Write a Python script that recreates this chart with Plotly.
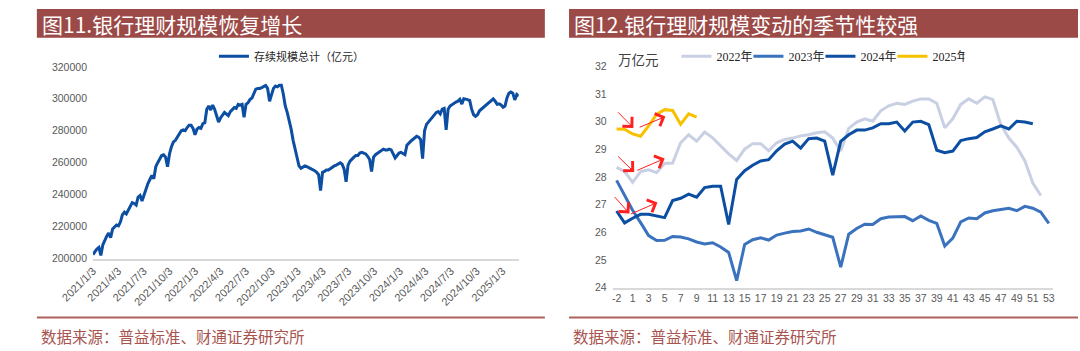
import pandas as pd
import plotly.graph_objects as go

W, H = 1080, 351

# ---------------- left chart data (亿元, weekly) ----------------
START_DATE = "2021-01-03"
SCALE_TOTAL = [
    202500, 204500, 206000, 207000, 202000, 208500, 211500, 214000, 216000, 213000,
    218500, 220000, 221000, 220500, 223000, 227500, 229000, 228000, 230500, 232500,
    235000, 234500, 233500, 238500, 239500, 236000, 240000, 243500, 247000, 249500,
    252000, 250000, 257500, 260000, 262000, 264500, 265000, 263500, 257500, 265500,
    270000, 273000, 274000, 276000, 278500, 280000, 280500, 280000, 282000, 283500,
    283500, 281500, 277500, 281000, 282000, 281500, 284500, 285000, 293500, 295500,
    293000, 296000, 293500, 290000, 285500, 288000, 289500, 291500, 290500, 289500,
    292000, 293500, 294500, 294000, 296500, 296000, 296500, 288500, 296500, 297500,
    299500, 300500, 303500, 306000, 306500, 306500, 307000, 307500, 308300, 306500,
    298500, 302500, 306500, 308000, 307500, 308500, 308500, 303000, 295500, 291500,
    287000, 281000, 274000, 268000, 263500, 258000, 256500, 257000, 258000, 257500,
    257000, 256000, 255500, 255000, 254000, 252500, 242500, 254000, 254500, 255500,
    255500, 256500, 257500, 258000, 258500, 259500, 260000, 259000, 256000, 248000,
    258500, 261000, 262500, 263500, 264500, 264500, 266000, 266500, 266000, 265500,
    264000, 262000, 254500, 263500, 265000, 266000, 266500, 267500, 268500, 268000,
    268000, 268500, 268000, 265500, 263000, 264500, 266000, 266500, 265500, 265000,
    271000, 272500, 273500, 274500, 275500, 276500, 276000, 274500, 262500, 280000,
    284000, 285500, 286500, 288000, 290000, 291500, 292000, 290500, 293500, 294000,
    280500, 293500, 295500, 296500, 297500, 298000, 298500, 299700, 296700, 300000,
    299800, 299500, 299000, 293500, 290000, 289000, 290000, 292500, 293500, 295000,
    295500, 296500, 297500, 298500, 300000, 298500, 296500, 296800, 296200, 294700,
    295500, 300500, 303500, 304200, 303500, 299300, 302700, 301700,
]
LEFT_TICK_DATES = [
    "2021-01-03", "2021-04-03", "2021-07-03", "2021-10-03",
    "2022-01-03", "2022-04-03", "2022-07-03", "2022-10-03",
    "2023-01-03", "2023-04-03", "2023-07-03", "2023-10-03",
    "2024-01-03", "2024-04-03", "2024-07-03", "2024-10-03",
    "2025-01-03",
]
LEFT_TICK_LABELS = [
    "2021/1/3", "2021/4/3", "2021/7/3", "2021/10/3",
    "2022/1/3", "2022/4/3", "2022/7/3", "2022/10/3",
    "2023/1/3", "2023/4/3", "2023/7/3", "2023/10/3",
    "2024/1/3", "2024/4/3", "2024/7/3", "2024/10/3",
    "2025/1/3",
]
LEFT_Y_TICKS = [200000, 220000, 240000, 260000, 280000, 300000, 320000]

# ---------------- right chart data (万亿元, by week) ----------------
WEEKS = ["-2", "-1"] + [str(i) for i in range(1, 54)]
Y2022 = [28.35, 28.20, 27.81, 28.20, 28.26, 28.16, 28.49, 28.51, 29.24, 29.53,
         29.30, 29.63, 29.42, 29.13, 28.84, 28.60, 29.01, 29.21, 29.21, 28.95,
         29.24, 29.36, 29.41, 29.49, 29.53, 29.60, 29.64, 29.41, 28.94, 29.76,
         29.99, 30.11, 30.02, 30.40, 30.58, 30.67, 30.63, 30.75, 30.83, 30.83,
         30.67, 29.78, 30.11, 30.63, 30.83, 30.67, 30.90, 30.81, 29.90, 29.41,
         29.08, 28.59, 27.78, 27.33]
Y2023 = [27.88, 27.33, 26.80, 26.35, 25.88, 25.70, 25.71, 25.85, 25.83, 25.76,
         25.65, 25.58, 25.62, 25.47, 25.27, 24.25, 25.56, 25.73, 25.80, 25.72,
         25.90, 25.97, 26.03, 26.05, 26.12, 26.00, 25.91, 25.82, 24.74, 25.93,
         26.14, 26.29, 26.28, 26.49, 26.55, 26.55, 26.57, 26.42, 26.59, 26.43,
         26.32, 25.50, 25.79, 26.38, 26.52, 26.49, 26.70, 26.78, 26.82, 26.87,
         26.78, 26.94, 26.87, 26.73, 26.32]
Y2024 = [26.77, 26.34, 26.51, 26.65, 26.65, 26.60, 26.53, 27.15, 27.23, 27.38,
         27.27, 27.62, 27.67, 27.67, 26.28, 27.91, 28.23, 28.43, 28.58, 28.63,
         28.95, 29.19, 29.30, 29.05, 29.39, 29.41, 29.30, 28.07, 29.29, 29.53,
         29.70, 29.70, 29.78, 29.93, 29.93, 29.99, 29.67, 29.99, 30.02, 29.90,
         28.97, 28.88, 28.94, 29.32, 29.39, 29.43, 29.64, 29.74, 29.85, 29.74,
         30.02, 29.99, 29.93]
Y2025 = [29.74, 29.73, 29.56, 29.48, 29.85, 30.27, 30.44, 30.41, 29.91, 30.29, 30.17]
RIGHT_Y_TICKS = [24, 25, 26, 27, 28, 29, 30, 31, 32]

SERIES = [
    ("2022年", Y2022, "#C9D0E4"),
    ("2023年", Y2023, "#3A72BD"),
    ("2024年", Y2024, "#0B4EA2"),
    ("2025年", Y2025, "#F7C100"),
]

# red arrows (tail -> head), in right-chart data coords (category index, value)
ARROWS = [
    ((0.0, 30.40), (2.1, 29.78)),
    ((2.7, 29.78), (6.1, 30.19)),
    ((0.0, 28.80), (2.2, 28.18)),
    ((2.4, 28.22), (6.0, 28.67)),
    ((-0.4, 27.33), (1.6, 26.68)),
    ((1.6, 26.64), (5.1, 27.08)),
]

TICK_FONT = dict(family="Arial, Liberation Sans, sans-serif", size=10.5, color="#595959")
XTICK_FONT = dict(family="Arial, Liberation Sans, sans-serif", size=11, color="#595959")
CJK = "Noto Sans CJK SC, sans-serif"
BAR = "#9C4A47"
SRC = "#A8544F"


def px(x):
    return x / W


def py(y):
    return 1 - y / H


dates = pd.date_range(START_DATE, periods=len(SCALE_TOTAL), freq="7D")

fig = go.Figure()
fig.add_trace(go.Scatter(
    x=dates, y=SCALE_TOTAL, mode="lines", name="存续规模总计（亿元）",
    line=dict(color="#0B4EA2", width=3), xaxis="x", yaxis="y", legend="legend",
    hoverinfo="skip",
))
for name, vals, col in SERIES:
    fig.add_trace(go.Scatter(
        x=WEEKS[:len(vals)], y=vals, mode="lines", name=name,
        line=dict(color=col, width=3), xaxis="x2", yaxis="y2", legend="legend2",
        hoverinfo="skip",
    ))

shapes = []
annotations = []
# title bars
for x0, x1, text in [(4, 529, "图11.银行理财规模恢复增长"), (554, 1080, "图12.银行理财规模变动的季节性较强")]:
    shapes.append(dict(type="rect", xref="paper", yref="paper", x0=px(x0), x1=px(x1),
                       y0=py(33), y1=py(3), fillcolor=BAR, line=dict(width=0), layer="below"))
    annotations.append(dict(xref="paper", yref="paper", x=px(x0 + 3), y=py(18.5), xanchor="left",
                            yanchor="middle", text=text, showarrow=False,
                            font=dict(family=CJK, size=21, color="white")))
    # separator + source
    shapes.append(dict(type="line", xref="paper", yref="paper", x0=px(x0), x1=px(x1),
                       y0=py(322.5), y1=py(322.5), line=dict(color="#B0605C", width=2)))
    annotations.append(dict(xref="paper", yref="paper", x=px(x0 + 2), y=py(342), xanchor="left",
                            yanchor="middle", text="数据来源：普益标准、财通证券研究所", showarrow=False,
                            font=dict(family=CJK, size=15.5, color=SRC)))

annotations.append(dict(xref="paper", yref="paper", x=px(603), y=py(55), xanchor="left",
                        yanchor="middle", text="万亿元", showarrow=False,
                        font=dict(family=CJK, size=13.5, color="#404040")))

for (tx, ty), (hx, hy) in ARROWS:
    annotations.append(dict(xref="x2", yref="y2", axref="x2", ayref="y2", x=hx, y=hy, ax=tx, ay=ty,
                            text="", showarrow=True, arrowhead=4, arrowsize=2.6, arrowwidth=1,
                            arrowcolor="#FF2020", standoff=0, startstandoff=0))

fig.update_layout(
    width=W, height=H, margin=dict(l=0, r=0, t=0, b=0),
    paper_bgcolor="white", plot_bgcolor="white",
    shapes=shapes, annotations=annotations,
    xaxis=dict(domain=[px(62), px(502)], anchor="y", type="date",
               range=[dates[0], dates[-1]], tickmode="array",
               tickvals=LEFT_TICK_DATES, ticktext=LEFT_TICK_LABELS, tickangle=-45,
               showline=True, linecolor="#D9D9D9", linewidth=1.5, showgrid=False,
               zeroline=False, ticks="", tickfont=XTICK_FONT),
    yaxis=dict(domain=[py(261.5), py(63)], anchor="x", range=[200000, 320000],
               tickmode="array", tickvals=LEFT_Y_TICKS,
               ticktext=[str(v) for v in LEFT_Y_TICKS], showgrid=False, zeroline=False,
               showline=False, ticks="", tickfont=TICK_FONT, ticklabelstandoff=5),
    xaxis2=dict(domain=[px(599), px(1054)], anchor="y2", type="category",
                categoryorder="array", categoryarray=WEEKS, range=[-0.5, len(WEEKS) - 0.5],
                tickmode="array", tickvals=WEEKS[::2], ticktext=WEEKS[::2], tickangle=0,
                showline=True, linecolor="#D9D9D9", linewidth=1.5, showgrid=False,
                zeroline=False, ticks="", tickfont=TICK_FONT),
    yaxis2=dict(domain=[py(291.5), py(62.7)], anchor="x2", range=[24, 32],
                tickmode="array", tickvals=RIGHT_Y_TICKS,
                ticktext=[str(v) for v in RIGHT_Y_TICKS], showgrid=False, zeroline=False,
                showline=False, ticks="", tickfont=TICK_FONT, ticklabelstandoff=5),
    legend=dict(orientation="h", x=px(187), y=py(37), xanchor="left", yanchor="top",
                font=dict(family=CJK, size=11, color="#262626"), bgcolor="rgba(0,0,0,0)"),
    legend2=dict(orientation="h", x=px(665), y=py(37), xanchor="left", yanchor="top",
                 entrywidth=27, entrywidthmode="pixels",
                 font=dict(family="Liberation Serif, Noto Sans CJK SC, serif", size=12, color="#262626"),
                 bgcolor="rgba(0,0,0,0)"),
    showlegend=True,
)

fig.write_html("out.html")
